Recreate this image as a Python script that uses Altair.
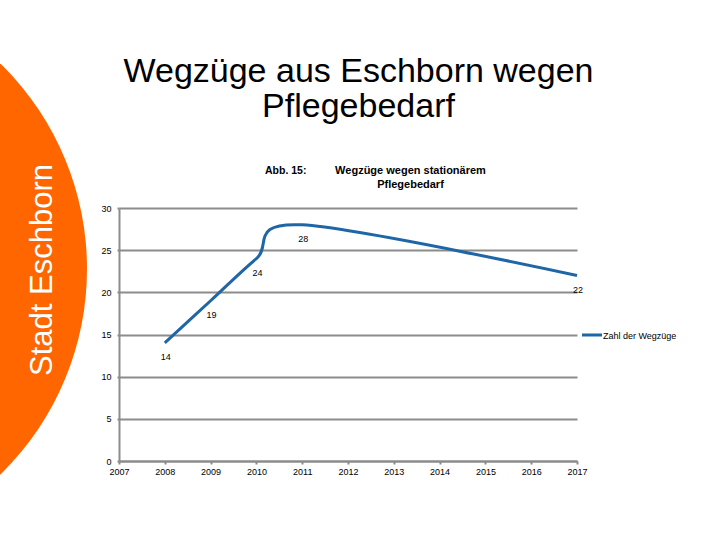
import altair as alt
import pandas as pd

# ---- data ----
years = [2008, 2009, 2010, 2011, 2017]
values = [14, 19, 24, 28, 22]
x_ticks = list(range(2007, 2018))
y_ticks = [0, 5, 10, 15, 20, 25, 30]
title_lines = ["Wegzüge aus Eschborn wegen", "Pflegebedarf"]
side_text = "Stadt Eschborn"
series_name = "Zahl der Wegzüge"
caption_label = "Abb. 15:"
caption_lines = ["Wegzüge wegen stationärem", "Pflegebedarf"]

FONT = "Liberation Sans"
BLUE = "#1f66a6"
GRAY = "#8c8c8c"
ORANGE = "#ff6600"

W, H = 458, 253
PL, PT = 119, 208

df = pd.DataFrame({"Jahr": years, "Wegzüge": values})
one = alt.Data(values=[{}])

xscale = alt.Scale(domain=[2007, 2017], nice=False, zero=False)
yscale = alt.Scale(domain=[0, 30], nice=False)

x_enc = alt.X(
    "Jahr:Q", scale=xscale,
    axis=alt.Axis(values=x_ticks, format="d", title=None, grid=False,
                  domainColor=GRAY, domainWidth=2, tickColor=GRAY, tickSize=3,
                  tickWidth=2, labelFontSize=9, labelPadding=3, labelColor="black",
                  labelFont=FONT, labelFlush=False, labelOverlap=False),
)
y_enc = alt.Y(
    "Wegzüge:Q", scale=yscale,
    axis=alt.Axis(values=y_ticks, title=None, grid=True, gridColor=GRAY, gridWidth=2,
                  domainColor=GRAY, domainWidth=2, tickColor=GRAY, tickSize=2,
                  tickWidth=2, labelFontSize=9, labelPadding=6, labelColor="black",
                  labelFont=FONT),
)

circle = alt.Chart(one).mark_arc(
    color=ORANGE, radius=287, theta=0, theta2=6.2832
).encode(x=alt.value(-200 - PL), y=alt.value(269 - PT))

side = alt.Chart(one).mark_text(
    angle=270, fontSize=31, color="white", align="center", baseline="alphabetic", font=FONT
).encode(x=alt.value(52 - PL), y=alt.value(270 - PT), text=alt.value(side_text))

title1 = alt.Chart(one).mark_text(
    fontSize=34, color="black", align="center", baseline="alphabetic", font=FONT
).encode(x=alt.value(239.5), y=alt.value(82 - PT), text=alt.value(title_lines[0]))
title2 = alt.Chart(one).mark_text(
    fontSize=34, color="black", align="center", baseline="alphabetic", font=FONT
).encode(x=alt.value(239.5), y=alt.value(117 - PT), text=alt.value(title_lines[1]))

cap0 = alt.Chart(one).mark_text(
    fontSize=10.5, fontWeight="bold", color="black", align="left", baseline="alphabetic", font=FONT
).encode(x=alt.value(265 - PL), y=alt.value(174 - PT), text=alt.value(caption_label))
cap1 = alt.Chart(one).mark_text(
    fontSize=11, fontWeight="bold", color="black", align="center", baseline="alphabetic", font=FONT
).encode(x=alt.value(410.5 - PL), y=alt.value(174 - PT), text=alt.value(caption_lines[0]))
cap2 = alt.Chart(one).mark_text(
    fontSize=11, fontWeight="bold", color="black", align="center", baseline="alphabetic", font=FONT
).encode(x=alt.value(410.5 - PL), y=alt.value(188 - PT), text=alt.value(caption_lines[1]))

base = alt.Chart(df)
line = base.mark_line(interpolate="cardinal", color=BLUE, strokeWidth=3).encode(x=x_enc, y=y_enc)
labels = base.mark_text(
    dy=14.5, dx=1, fontSize=9, color="black", font=FONT, baseline="middle", align="center"
).encode(x=alt.X("Jahr:Q", scale=xscale), y=alt.Y("Wegzüge:Q", scale=yscale), text="Wegzüge:Q")

leg_line = alt.Chart(one).mark_rule(color=BLUE, strokeWidth=3).encode(
    x=alt.value(582 - PL), x2=alt.value(602 - PL), y=alt.value(335 - PT)
)
leg_text = alt.Chart(one).mark_text(
    fontSize=9, color="black", align="left", baseline="middle", font=FONT
).encode(x=alt.value(603 - PL), y=alt.value(336 - PT), text=alt.value(series_name))

chart = alt.layer(
    circle, side, title1, title2, cap0, cap1, cap2, line, labels, leg_line, leg_text
).properties(
    width=W, height=H,
    autosize=alt.AutoSizeParams(type="none"),
    padding={"left": PL, "top": PT, "right": 720 - PL - W, "bottom": 540 - PT - H},
    background="white",
).configure_view(stroke=None)

chart.save("out.html", embed_options={"renderer": "svg", "actions": False})
